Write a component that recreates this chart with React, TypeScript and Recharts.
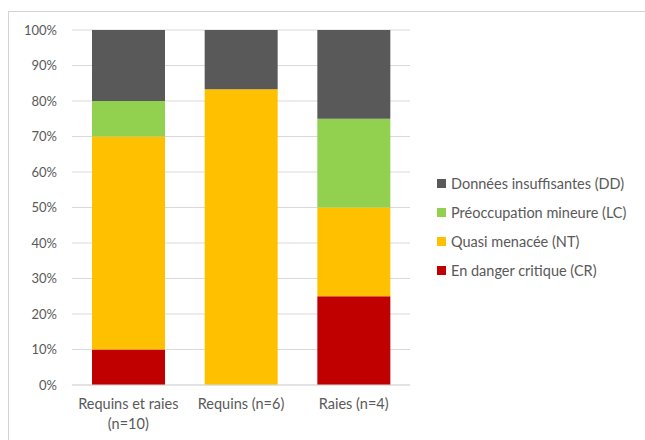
import React from "react";
import { BarChart, Bar, XAxis, YAxis, CartesianGrid, Legend, Text } from "recharts";

// Species counts per group, by IUCN status
const groups = ["Requins et raies (n=10)", "Requins (n=6)", "Raies (n=4)"];
const crCounts = [1, 0, 1];
const ntCounts = [6, 5, 1];
const lcCounts = [1, 0, 1];
const ddCounts = [2, 1, 1];
const yTicks = [0, 0.1, 0.2, 0.3, 0.4, 0.5, 0.6, 0.7, 0.8, 0.9, 1];

const series = [
  { key: "CR", name: "En danger critique (CR)", color: "#c00000", values: crCounts },
  { key: "NT", name: "Quasi menacée (NT)", color: "#ffc000", values: ntCounts },
  { key: "LC", name: "Préoccupation mineure (LC)", color: "#92d050", values: lcCounts },
  { key: "DD", name: "Données insuffisantes (DD)", color: "#595959", values: ddCounts },
];

const data = groups.map((g, i) => {
  const row: Record<string, string | number> = { group: g };
  series.forEach((s) => (row[s.key] = s.values[i]));
  return row;
});

const FONT = "Lato, 'Open Sans', sans-serif";
const TEXT_COLOR = "#595959";

const CategoryTick = (props: any) => {
  const { x, y, payload } = props;
  return (
    <Text
      x={x}
      y={y + 6}
      width={122}
      textAnchor="middle"
      verticalAnchor="start"
      lineHeight={20}
      fill={TEXT_COLOR}
      style={{ fontFamily: FONT, fontSize: 14.5 }}
    >
      {payload.value}
    </Text>
  );
};

const LegendBox = () => (
  <div style={{ fontFamily: FONT, fontSize: 14.5, color: TEXT_COLOR }}>
    {[...series].reverse().map((s) => (
      <div key={s.key} style={{ display: "flex", alignItems: "center", height: 29 }}>
        <span
          style={{ width: 9, height: 9, background: s.color, display: "inline-block", marginRight: 5 }}
        />
        <span>{s.name}</span>
      </div>
    ))}
  </div>
);

export default function App() {
  return (
    <div style={{ position: "fixed", left: 0, top: 0, width: 645, height: 440, background: "#fff", overflow: "hidden" }}>
      <div
        style={{
          position: "absolute",
          left: 8,
          top: 11,
          width: 660,
          height: 460,
          border: "1px solid #d4d4d4",
          boxSizing: "border-box",
        }}
      />
      <div style={{ position: "absolute", left: 0, top: 0 }}>
        <BarChart
          width={645}
          height={440}
          data={data}
          stackOffset="expand"
          margin={{ top: 30, right: 235, bottom: 15, left: 0 }}
          barSize={73}
        >
          <CartesianGrid vertical={false} stroke="#d9d9d9" />
          <XAxis
            dataKey="group"
            axisLine={{ stroke: "#d9d9d9" }}
            tickLine={false}
            interval={0}
            height={40}
            tick={<CategoryTick />}
          />
          <YAxis
            width={72}
            domain={[0, 1]}
            ticks={yTicks}
            tickFormatter={(v: number) => `${Math.round(v * 100)}%`}
            axisLine={false}
            tickLine={false}
            tickMargin={9}
            tick={{ fill: TEXT_COLOR, fontSize: 13, fontFamily: FONT }}
          />
          <Legend
            content={<LegendBox />}
            layout="vertical"
            align="center"
            verticalAlign="middle"
            wrapperStyle={{ left: 437, top: 169, width: 205 }}
          />
          {series.map((s) => (
            <Bar key={s.key} dataKey={s.key} name={s.name} stackId="a" fill={s.color} isAnimationActive={false} />
          ))}
        </BarChart>
      </div>
    </div>
  );
}
